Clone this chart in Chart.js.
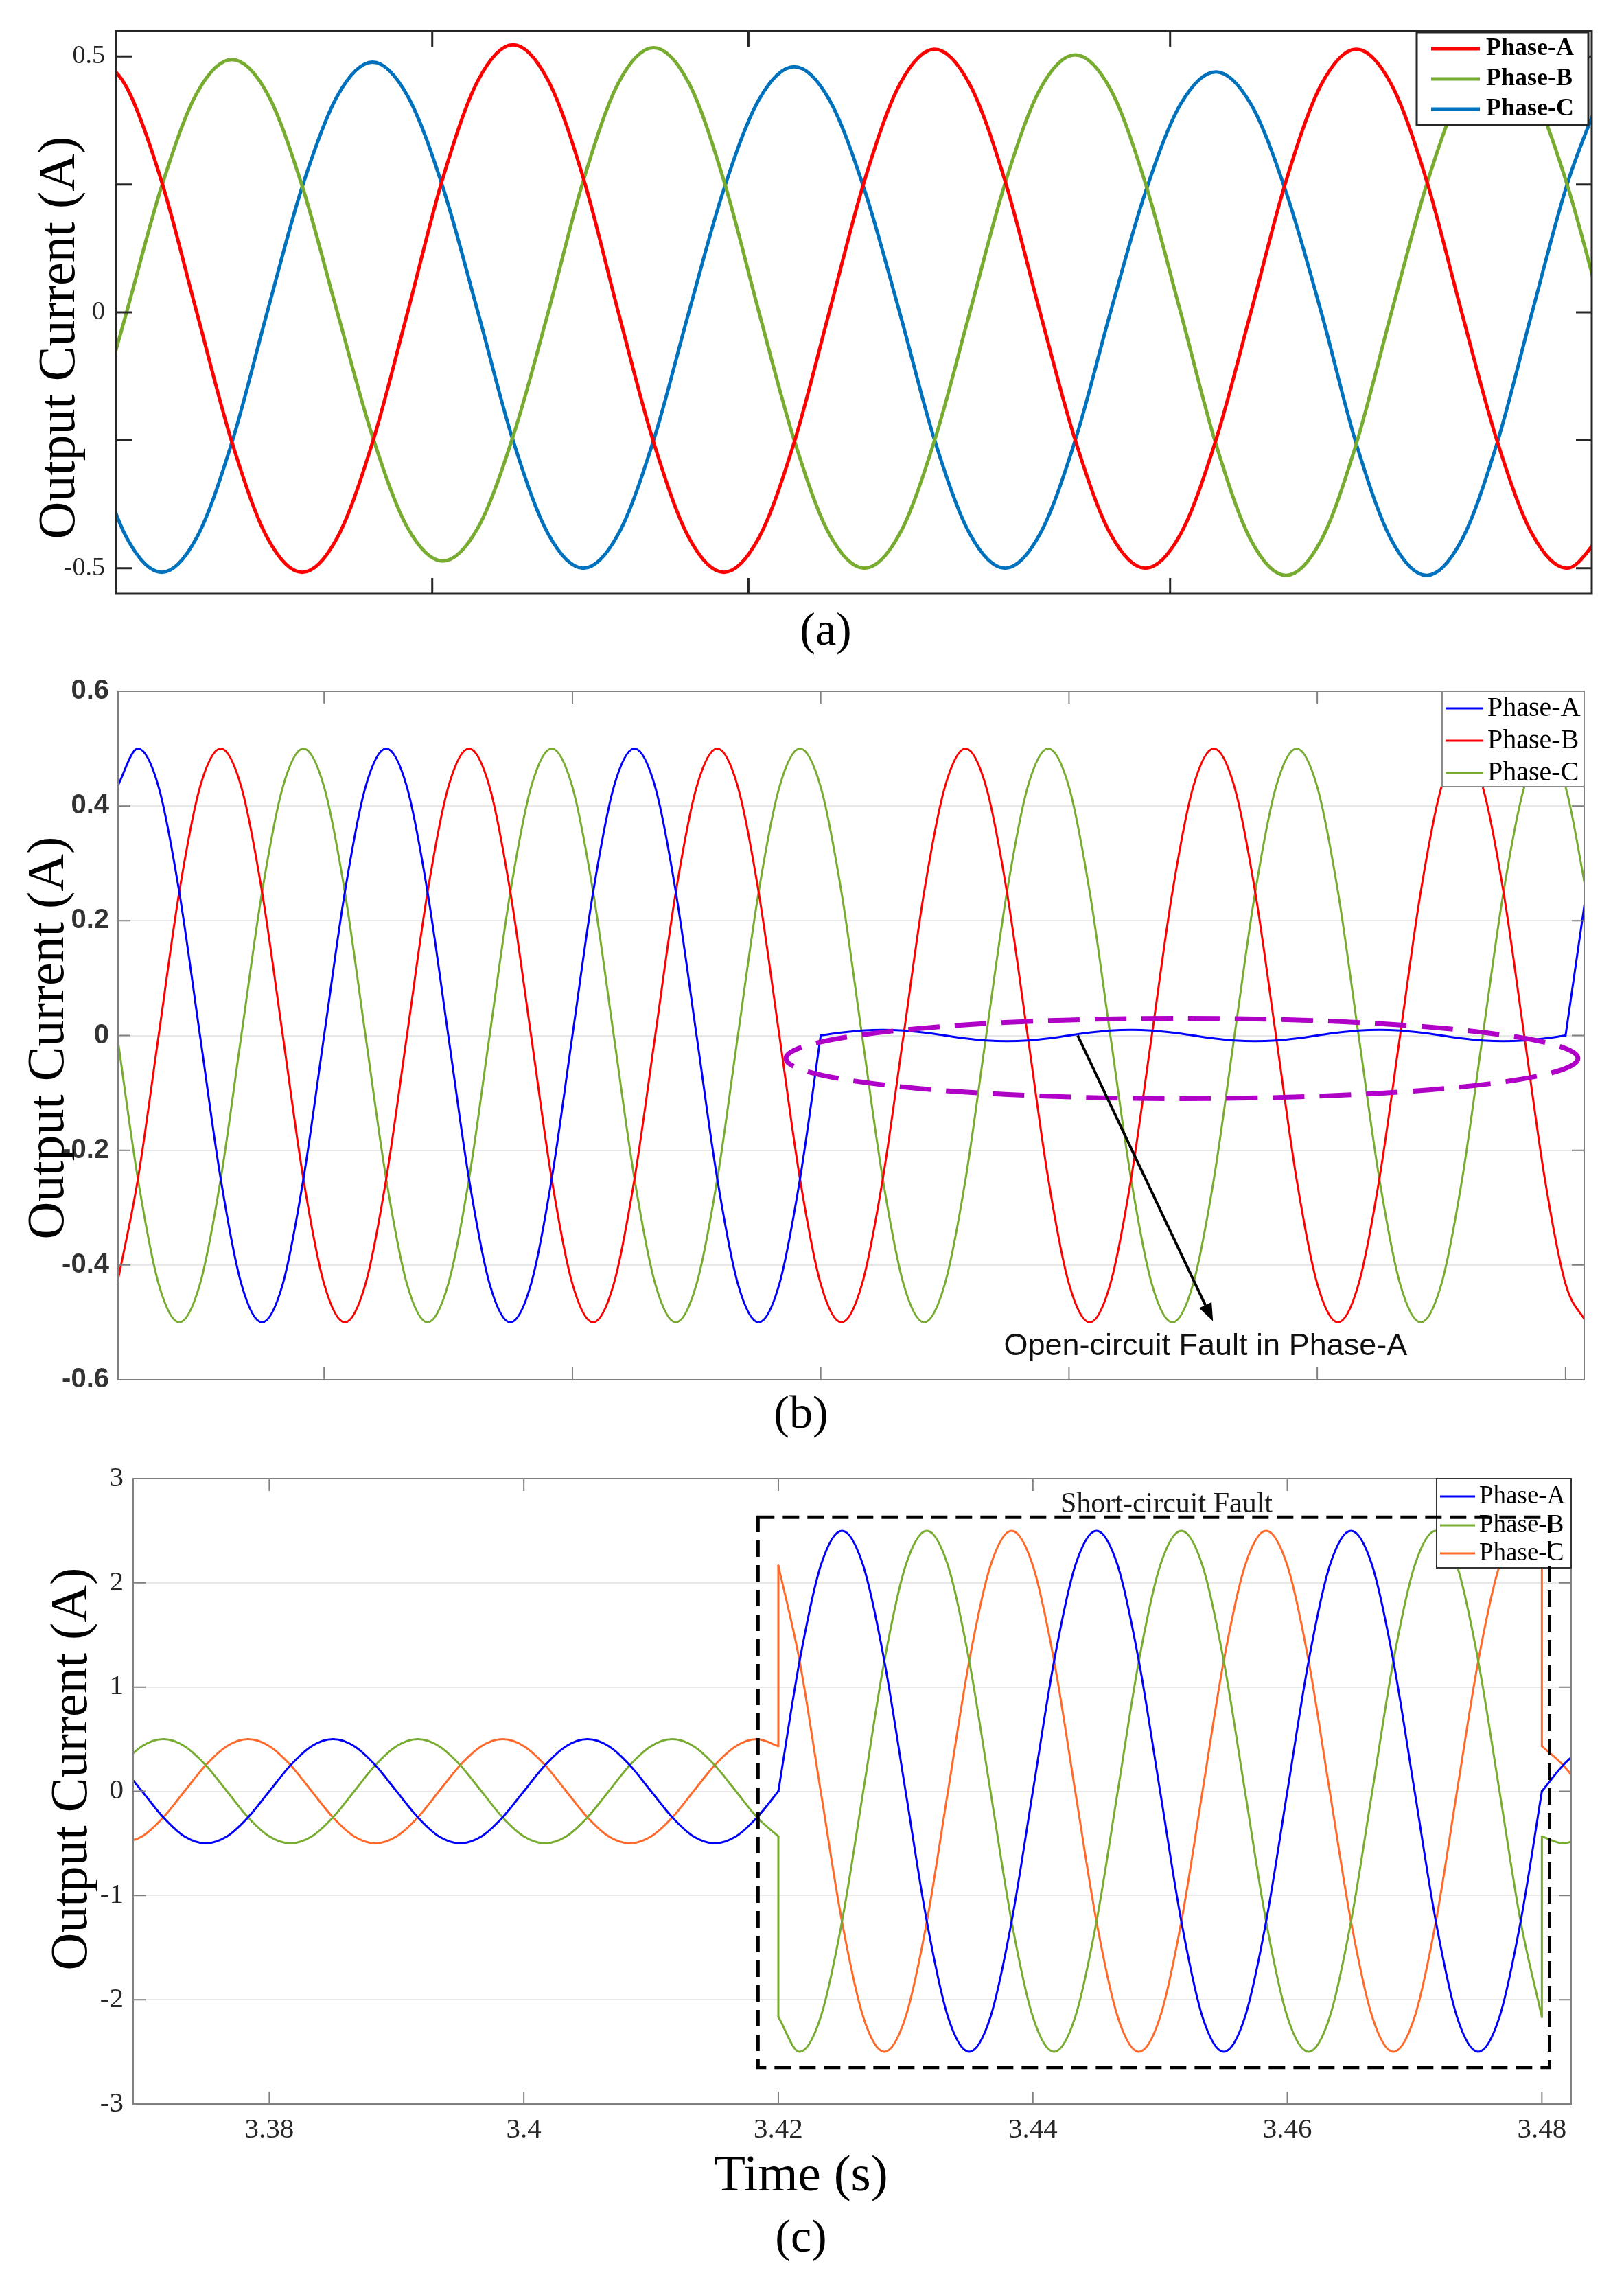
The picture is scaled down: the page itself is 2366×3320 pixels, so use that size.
<!DOCTYPE html>
<html>
<head>
<meta charset="utf-8">
<script src="https://cdn.jsdelivr.net/npm/chart.js@4.4.1/dist/chart.umd.min.js"></script>
<style>
  body { margin: 0; background: #fff; }
  #page { position: relative; width: 2366px; height: 3320px; background: #fff; }
  canvas { position: absolute; left: 0; }
</style>
</head>
<body>
<div id="page">
  <canvas id="chartA" width="2366" height="960" style="top:0px"></canvas>
  <canvas id="chartB" width="2366" height="1150" style="top:960px"></canvas>
  <canvas id="chartC" width="2366" height="1210" style="top:2110px"></canvas>
</div>
<script>
Chart.defaults.font.family = '"Liberation Serif"';

const seriesNames = ['Phase-A', 'Phase-B', 'Phase-C'];
const yTitle = 'Output Current (A)';
const xTitleC = 'Time (s)';
const noteB = 'Open-circuit Fault in Phase-A';
const noteC = 'Short-circuit Fault';

// ---- (a) measured currents, sampled every 1/600 s ----
const timeA = [-0.00117, 0.0005, 0.00217, 0.00383, 0.0055, 0.00717, 0.00883, 0.0105, 0.01217, 0.01383,
  0.0155, 0.01717, 0.01883, 0.0205, 0.02217, 0.02383, 0.0255, 0.02717, 0.02883, 0.0305,
  0.03217, 0.03383, 0.0355, 0.03717, 0.03883, 0.0405, 0.04217, 0.04383, 0.0455, 0.04717,
  0.04883, 0.0505, 0.05217, 0.05383, 0.0555, 0.05717, 0.05883, 0.0605, 0.06217, 0.06383,
  0.0655, 0.06717, 0.06883, 0.0705];
const phaseA_a = [0.51, 0.44, 0.255, 0.0, -0.254, -0.44, -0.508, -0.44, -0.254, 0.0,
  0.262, 0.453, 0.523, 0.453, 0.262, 0.0, -0.254, -0.44, -0.508, -0.44,
  -0.254, 0.0, 0.257, 0.445, 0.514, 0.445, 0.257, 0.0, -0.25, -0.433,
  -0.5, -0.433, -0.25, 0.0, 0.257, 0.445, 0.514, 0.445, 0.257, 0.0,
  -0.25, -0.433, -0.5, -0.433];
const phaseB_a = [-0.245, 0.0, 0.247, 0.428, 0.494, 0.428, 0.247, 0.0, -0.243, -0.421,
  -0.486, -0.421, -0.243, 0.0, 0.258, 0.448, 0.517, 0.448, 0.258, 0.0,
  -0.25, -0.433, -0.5, -0.433, -0.25, 0.0, 0.252, 0.436, 0.503, 0.436,
  0.252, 0.0, -0.257, -0.445, -0.514, -0.445, -0.257, 0.0, 0.25, 0.433,
  0.5, 0.433, 0.25, 0.0];
const phaseC_a = [-0.254, -0.44, -0.508, -0.44, -0.254, 0.0, 0.245, 0.423, 0.489, 0.423,
  0.245, 0.0, -0.25, -0.433, -0.5, -0.433, -0.25, 0.0, 0.24, 0.416,
  0.48, 0.416, 0.24, 0.0, -0.25, -0.433, -0.5, -0.433, -0.25, 0.0,
  0.235, 0.407, 0.47, 0.407, 0.235, 0.0, -0.257, -0.445, -0.514, -0.445,
  -0.257, 0.0, 0.25, 0.433];
const xTicksA = [0.015, 0.03, 0.05];
const yTicksA = [-0.5, -0.25, 0, 0.25, 0.5];
const yLabelsA = ['-0.5', '', '0', '', '0.5'];

// ---- (b) open-circuit fault in phase A between 0.06 s and 0.12 s ----
const timeB = [0.00333, 0.005, 0.00667, 0.00833, 0.01, 0.01167, 0.01333, 0.015, 0.01667, 0.01833, 0.02, 0.02167,
  0.02333, 0.025, 0.02667, 0.02833, 0.03, 0.03167, 0.03333, 0.035, 0.03667, 0.03833, 0.04, 0.04167,
  0.04333, 0.045, 0.04667, 0.04833, 0.05, 0.05167, 0.05333, 0.055, 0.05667, 0.05833, 0.06, 0.06167,
  0.06333, 0.065, 0.06667, 0.06833, 0.07, 0.07167, 0.07333, 0.075, 0.07667, 0.07833, 0.08, 0.08167,
  0.08333, 0.085, 0.08667, 0.08833, 0.09, 0.09167, 0.09333, 0.095, 0.09667, 0.09833, 0.1, 0.10167,
  0.10333, 0.105, 0.10667, 0.10833, 0.11, 0.11167, 0.11333, 0.115, 0.11667, 0.11833, 0.12, 0.12167];
const phaseA_b = [0.433, 0.5, 0.433, 0.25, 0, -0.25, -0.433, -0.5, -0.433, -0.25, 0, 0.25,
  0.433, 0.5, 0.433, 0.25, 0, -0.25, -0.433, -0.5, -0.433, -0.25, 0, 0.25,
  0.433, 0.5, 0.433, 0.25, 0, -0.25, -0.433, -0.5, -0.433, -0.25, 0, 0.005,
  0.0087, 0.01, 0.0087, 0.005, 0, -0.005, -0.0087, -0.01, -0.0087, -0.005, 0, 0.005,
  0.0087, 0.01, 0.0087, 0.005, 0, -0.005, -0.0087, -0.01, -0.0087, -0.005, 0, 0.005,
  0.0087, 0.01, 0.0087, 0.005, 0, -0.005, -0.0087, -0.01, -0.0087, -0.005, 0, 0.25];
const phaseB_b = [-0.433, -0.25, 0, 0.25, 0.433, 0.5, 0.433, 0.25, 0, -0.25, -0.433, -0.5,
  -0.433, -0.25, 0, 0.25, 0.433, 0.5, 0.433, 0.25, 0, -0.25, -0.433, -0.5,
  -0.433, -0.25, 0, 0.25, 0.433, 0.5, 0.433, 0.25, 0, -0.25, -0.433, -0.5,
  -0.433, -0.25, 0, 0.25, 0.433, 0.5, 0.433, 0.25, 0, -0.25, -0.433, -0.5,
  -0.433, -0.25, 0, 0.25, 0.433, 0.5, 0.433, 0.25, 0, -0.25, -0.433, -0.5,
  -0.433, -0.25, 0, 0.25, 0.433, 0.5, 0.433, 0.25, 0, -0.25, -0.433, -0.5];
const phaseC_b = [0, -0.25, -0.433, -0.5, -0.433, -0.25, 0, 0.25, 0.433, 0.5, 0.433, 0.25,
  0, -0.25, -0.433, -0.5, -0.433, -0.25, 0, 0.25, 0.433, 0.5, 0.433, 0.25,
  0, -0.25, -0.433, -0.5, -0.433, -0.25, 0, 0.25, 0.433, 0.5, 0.433, 0.25,
  0, -0.25, -0.433, -0.5, -0.433, -0.25, 0, 0.25, 0.433, 0.5, 0.433, 0.25,
  0, -0.25, -0.433, -0.5, -0.433, -0.25, 0, 0.25, 0.433, 0.5, 0.433, 0.25,
  0, -0.25, -0.433, -0.5, -0.433, -0.25, 0, 0.25, 0.433, 0.5, 0.433, 0.25];
const faultBreaksB = [0.06, 0.12];
const xTicksB = [0.02, 0.04, 0.06, 0.08, 0.1, 0.12];
const yTicksB = [-0.6, -0.4, -0.2, 0, 0.2, 0.4, 0.6];
const yLabelsB = ['-0.6', '-0.4', '-0.2', '0', '0.2', '0.4', '0.6'];

// ---- (c) short-circuit fault between 3.42 s and 3.48 s (repeated time = jump) ----
const timeC = [3.36833, 3.37, 3.37167, 3.37333, 3.375, 3.37667, 3.37833, 3.38, 3.38167, 3.38333,
  3.385, 3.38667, 3.38833, 3.39, 3.39167, 3.39333, 3.395, 3.39667, 3.39833, 3.4, 3.40167, 3.40333,
  3.405, 3.40667, 3.40833, 3.41, 3.41167, 3.41333, 3.415, 3.41667, 3.41833, 3.42,
  3.42, 3.42167, 3.42333, 3.425, 3.42667, 3.42833, 3.43, 3.43167, 3.43333, 3.435, 3.43667, 3.43833, 3.44,
  3.44167, 3.44333, 3.445, 3.44667, 3.44833, 3.45, 3.45167, 3.45333, 3.455, 3.45667, 3.45833, 3.46,
  3.46167, 3.46333, 3.465, 3.46667, 3.46833, 3.47, 3.47167, 3.47333, 3.475, 3.47667, 3.47833, 3.48,
  3.48, 3.48167, 3.48333];
const phaseA_c = [0.25, 0, -0.25, -0.433, -0.5, -0.433, -0.25, 0, 0.25, 0.433,
  0.5, 0.433, 0.25, 0, -0.25, -0.433, -0.5, -0.433, -0.25, 0, 0.25, 0.433,
  0.5, 0.433, 0.25, 0, -0.25, -0.433, -0.5, -0.433, -0.25, 0,
  0, 1.25, 2.165, 2.5, 2.165, 1.25, 0, -1.25, -2.165, -2.5, -2.165, -1.25, 0,
  1.25, 2.165, 2.5, 2.165, 1.25, 0, -1.25, -2.165, -2.5, -2.165, -1.25, 0,
  1.25, 2.165, 2.5, 2.165, 1.25, 0, -1.25, -2.165, -2.5, -2.165, -1.25, 0,
  0, 0.25, 0.433];
const phaseB_c = [0.25, 0.433, 0.5, 0.433, 0.25, 0, -0.25, -0.433, -0.5, -0.433,
  -0.25, 0, 0.25, 0.433, 0.5, 0.433, 0.25, 0, -0.25, -0.433, -0.5, -0.433,
  -0.25, 0, 0.25, 0.433, 0.5, 0.433, 0.25, 0, -0.25, -0.433,
  -2.165, -2.5, -2.165, -1.25, 0, 1.25, 2.165, 2.5, 2.165, 1.25, 0, -1.25, -2.165,
  -2.5, -2.165, -1.25, 0, 1.25, 2.165, 2.5, 2.165, 1.25, 0, -1.25, -2.165,
  -2.5, -2.165, -1.25, 0, 1.25, 2.165, 2.5, 2.165, 1.25, 0, -1.25, -2.165,
  -0.433, -0.5, -0.433];
const phaseC_c = [-0.5, -0.433, -0.25, 0, 0.25, 0.433, 0.5, 0.433, 0.25, 0,
  -0.25, -0.433, -0.5, -0.433, -0.25, 0, 0.25, 0.433, 0.5, 0.433, 0.25, 0,
  -0.25, -0.433, -0.5, -0.433, -0.25, 0, 0.25, 0.433, 0.5, 0.433,
  2.165, 1.25, 0, -1.25, -2.165, -2.5, -2.165, -1.25, 0, 1.25, 2.165, 2.5, 2.165,
  1.25, 0, -1.25, -2.165, -2.5, -2.165, -1.25, 0, 1.25, 2.165, 2.5, 2.165,
  1.25, 0, -1.25, -2.165, -2.5, -2.165, -1.25, 0, 1.25, 2.165, 2.5, 2.165,
  0.433, 0.25, 0];
const xTicksC = [3.38, 3.4, 3.42, 3.44, 3.46, 3.48];
const xLabelsC = ['3.38', '3.4', '3.42', '3.44', '3.46', '3.48'];
const yTicksC = [-3, -2, -1, 0, 1, 2, 3];
const yLabelsC = ['-3', '-2', '-1', '0', '1', '2', '3'];

// split a trace into smooth pieces: repeated time -> vertical jump, break time -> kink
function tracePieces(times, values, breaks) {
  const pieces = [];
  const jumps = [];
  let cur = [];
  for (let i = 0; i < times.length; i++) {
    const p = {x: times[i], y: values[i]};
    if (i > 0 && times[i] === times[i - 1]) {
      jumps.push([cur[cur.length - 1], p]);
      pieces.push(cur);
      cur = [p];
      continue;
    }
    cur.push(p);
    if (breaks && breaks.includes(times[i]) && i > 0 && i < times.length - 1) {
      pieces.push(cur);
      cur = [p];
    }
  }
  pieces.push(cur);
  return {pieces, jumps};
}

function traceDatasets(times, seriesList, colors, width, breaksList) {
  const sets = [];
  seriesList.forEach((values, s) => {
    const {pieces, jumps} = tracePieces(times, values, breaksList ? breaksList[s] : null);
    pieces.forEach(piece => sets.push({
      data: piece, borderColor: colors[s], borderWidth: width,
      cubicInterpolationMode: 'monotone', tension: 0.4, pointRadius: 0, borderCapStyle: 'round'
    }));
    jumps.forEach(j => sets.push({
      data: j, borderColor: colors[s], borderWidth: width, tension: 0, pointRadius: 0, borderCapStyle: 'round'
    }));
  });
  return sets;
}

function drawFrame(chart, fr) {
  const {ctx, chartArea: a, scales: {x, y}} = chart;
  ctx.save();
  ctx.strokeStyle = fr.color;
  ctx.lineWidth = fr.width;
  ctx.setLineDash([]);
  ctx.beginPath();
  x.ticks.forEach(t => {
    const px = x.getPixelForValue(t.value);
    ctx.moveTo(px, a.bottom); ctx.lineTo(px, a.bottom - fr.tick);
    ctx.moveTo(px, a.top); ctx.lineTo(px, a.top + fr.tick);
  });
  y.ticks.forEach(t => {
    const py = y.getPixelForValue(t.value);
    ctx.moveTo(a.left, py); ctx.lineTo(a.left + fr.tick, py);
    ctx.moveTo(a.right, py); ctx.lineTo(a.right - fr.tick, py);
  });
  ctx.stroke();
  ctx.strokeRect(a.left, a.top, a.right - a.left, a.bottom - a.top);
  ctx.restore();
}

function drawLegend(chart, lg) {
  const ctx = chart.ctx;
  ctx.save();
  ctx.setLineDash([]);
  ctx.fillStyle = '#fff';
  ctx.fillRect(lg.x, lg.y, lg.w, lg.h);
  ctx.strokeStyle = lg.border;
  ctx.lineWidth = lg.borderWidth;
  ctx.strokeRect(lg.x, lg.y, lg.w, lg.h);
  ctx.font = lg.font;
  ctx.textAlign = 'left';
  ctx.textBaseline = 'middle';
  seriesNames.forEach((name, i) => {
    const y = lg.rows[i];
    ctx.strokeStyle = lg.colors[i];
    ctx.lineWidth = lg.lineWidth;
    ctx.beginPath();
    ctx.moveTo(lg.lineFrom, y);
    ctx.lineTo(lg.lineTo, y);
    ctx.stroke();
    ctx.fillStyle = '#000';
    ctx.fillText(name, lg.textX, y);
  });
  ctx.restore();
}

function drawNotes(chart, notes) {
  const {ctx, scales: {x, y}} = chart;
  (notes || []).forEach(n => {
    ctx.save();
    ctx.strokeStyle = n.color;
    ctx.fillStyle = n.color;
    ctx.lineWidth = n.width || 1;
    ctx.setLineDash(n.dash || []);
    if (n.type === 'ellipse') {
      const cx = x.getPixelForValue(n.cx), cy = y.getPixelForValue(n.cy);
      const rx = Math.abs(x.getPixelForValue(n.cx + n.rx) - cx);
      const ry = Math.abs(y.getPixelForValue(n.cy + n.ry) - cy);
      ctx.beginPath();
      ctx.ellipse(cx, cy, rx, ry, 0, 0, Math.PI * 2);
      ctx.stroke();
    } else if (n.type === 'rect') {
      const x0 = x.getPixelForValue(n.x0), y0 = y.getPixelForValue(n.y0);
      const x1 = x.getPixelForValue(n.x1), y1 = y.getPixelForValue(n.y1);
      ctx.strokeRect(x0, y0, x1 - x0, y1 - y0);
    } else if (n.type === 'arrow') {
      const x0 = x.getPixelForValue(n.x0), y0 = y.getPixelForValue(n.y0);
      const x1 = x.getPixelForValue(n.x1), y1 = y.getPixelForValue(n.y1);
      const ang = Math.atan2(y1 - y0, x1 - x0);
      const bx = x1 - n.head * Math.cos(ang), by = y1 - n.head * Math.sin(ang);
      ctx.beginPath();
      ctx.moveTo(x0, y0);
      ctx.lineTo(bx, by);
      ctx.stroke();
      ctx.beginPath();
      ctx.moveTo(x1, y1);
      ctx.lineTo(bx + n.headW * Math.sin(ang), by - n.headW * Math.cos(ang));
      ctx.lineTo(bx - n.headW * Math.sin(ang), by + n.headW * Math.cos(ang));
      ctx.closePath();
      ctx.fill();
    } else if (n.type === 'text') {
      ctx.font = n.font;
      ctx.textAlign = n.align;
      ctx.textBaseline = n.baseline;
      ctx.fillText(n.text, x.getPixelForValue(n.x), y.getPixelForValue(n.y));
    }
    ctx.restore();
  });
}

function drawTitles(chart, titles) {
  const ctx = chart.ctx;
  titles.forEach(t => {
    ctx.save();
    ctx.font = t.font;
    ctx.fillStyle = '#000';
    ctx.textAlign = 'center';
    ctx.textBaseline = 'middle';
    ctx.translate(t.x, t.y);
    if (t.rotate) ctx.rotate(-Math.PI / 2);
    ctx.fillText(t.text, 0, 0);
    ctx.restore();
  });
}

const panelDecor = {
  id: 'panelDecor',
  afterDatasetsDraw(chart, args, opts) {
    if (!opts.notesOnTop) drawNotes(chart, opts.notes);
    drawFrame(chart, opts.frame);
    drawLegend(chart, opts.legend);
    if (opts.notesOnTop) drawNotes(chart, opts.notes);
    drawTitles(chart, opts.titles);
  }
};

function makeChart(id, p) {
  return new Chart(document.getElementById(id), {
    type: 'line',
    data: {datasets: p.datasets},
    options: {
      responsive: false,
      animation: false,
      devicePixelRatio: 1,
      layout: {padding: p.padding},
      plugins: {legend: {display: false}, tooltip: {enabled: false}, panelDecor: p.decor},
      scales: {
        x: {
          type: 'linear', min: p.xMin, max: p.xMax,
          afterBuildTicks: s => { s.ticks = p.xTicks.map(v => ({value: v})); },
          afterFit: s => { s.height = p.xHeight; },
          ticks: {
            display: !!p.xLabels, callback: (v, i) => (p.xLabels ? p.xLabels[i] : ''),
            font: p.tickFont, color: p.tickColor, padding: p.xPad, maxRotation: 0, autoSkip: false
          },
          grid: {display: false, drawTicks: false},
          border: {display: false}
        },
        y: {
          type: 'linear', min: p.yMin, max: p.yMax,
          afterBuildTicks: s => { s.ticks = p.yTicks.map(v => ({value: v})); },
          afterFit: s => { s.width = p.yWidth; },
          ticks: {callback: (v, i) => p.yLabels[i], font: p.tickFont, color: p.tickColor, padding: p.yPad, autoSkip: false},
          grid: {display: !!p.grid, color: p.grid, lineWidth: 2, drawTicks: false},
          border: {display: false}
        }
      }
    },
    plugins: [panelDecor]
  });
}

const colorsA = ['#FF0000', '#77AC30', '#0072BD'];
makeChart('chartA', {
  datasets: traceDatasets(timeA, [phaseA_a, phaseB_a, phaseC_a], colorsA, 5),
  padding: {left: 0, right: 47, top: 45, bottom: 0},
  xMin: 0, xMax: 0.07, xTicks: xTicksA, xHeight: 95,
  yMin: -0.55, yMax: 0.55, yTicks: yTicksA, yLabels: yLabelsA, yWidth: 169, yPad: 16,
  tickFont: {family: '"Liberation Serif"', size: 38}, tickColor: '#262626',
  decor: {
    frame: {color: '#262626', width: 3, tick: 23},
    legend: {x: 2064, y: 47, w: 250, h: 135, rows: [71, 115, 159], lineFrom: 2085, lineTo: 2156, textX: 2165,
      font: 'bold 36px "Liberation Serif"', lineWidth: 5, colors: colorsA, border: '#262626', borderWidth: 3},
    titles: [
      {text: yTitle, x: 88, y: 492, font: '76px "Liberation Serif"', rotate: true},
      {text: '(a)', x: 1203, y: 921, font: '68px "Liberation Serif"'}
    ]
  }
});

const colorsB = ['#0000FF', '#FF0000', '#77AC30'];
makeChart('chartB', {
  datasets: traceDatasets(timeB, [phaseA_b, phaseB_b, phaseC_b], colorsB, 3, [faultBreaksB, null, null]),
  padding: {left: 0, right: 58, top: 47, bottom: 0},
  xMin: 0.0034, xMax: 0.1215, xTicks: xTicksB, xHeight: 100,
  yMin: -0.6, yMax: 0.6, yTicks: yTicksB, yLabels: yLabelsB, yWidth: 172, yPad: 13,
  tickFont: {family: '"Liberation Sans"', size: 40, weight: 'bold'}, tickColor: '#333333',
  grid: '#E8E8E8',
  decor: {
    frame: {color: '#808080', width: 2, tick: 18},
    legend: {x: 2101, y: 47, w: 207, h: 139, rows: [72, 119, 166], lineFrom: 2106, lineTo: 2161, textX: 2167,
      font: '40px "Liberation Serif"', lineWidth: 3, colors: colorsB, border: '#8C8C8C', borderWidth: 2},
    notes: [
      {type: 'ellipse', cx: 0.0891, cy: -0.04, rx: 0.0319, ry: 0.07, color: '#B000C8', width: 7, dash: [46, 22]},
      {type: 'arrow', x0: 0.0807, y0: 0.0, x1: 0.0916, y1: -0.498, color: '#000', width: 4, head: 26, headW: 10},
      {type: 'text', x: 0.091, y: -0.5425, text: noteB, font: '45px "Liberation Sans"', color: '#111111', align: 'center', baseline: 'middle'}
    ],
    titles: [
      {text: yTitle, x: 72, y: 552, font: '76px "Liberation Serif"', rotate: true},
      {text: '(b)', x: 1167, y: 1102, font: '68px "Liberation Serif"'}
    ]
  }
});

const colorsC = ['#0000FF', '#77AC30', '#FF6A2B'];
makeChart('chartC', {
  datasets: traceDatasets(timeC, [phaseA_c, phaseB_c, phaseC_c], colorsC, 3),
  padding: {left: 0, right: 77, top: 44, bottom: 0},
  xMin: 3.3693, xMax: 3.4823, xTicks: xTicksC, xLabels: xLabelsC, xHeight: 255, xPad: 14,
  yMin: -3, yMax: 3, yTicks: yTicksC, yLabels: yLabelsC, yWidth: 194, yPad: 14,
  tickFont: {family: '"Liberation Serif"', size: 41}, tickColor: '#262626',
  grid: '#E8E8E8',
  decor: {
    frame: {color: '#808080', width: 2, tick: 18},
    legend: {x: 2093, y: 44, w: 196, h: 130, rows: [70, 112, 153], lineFrom: 2098, lineTo: 2149, textX: 2155,
      font: '37px "Liberation Serif"', lineWidth: 3, colors: colorsC, border: '#333333', borderWidth: 2},
    notesOnTop: true,
    notes: [
      {type: 'rect', x0: 3.4184, y0: 2.63, x1: 3.4806, y1: -2.65, color: '#000', width: 5, dash: [24, 12]},
      {type: 'text', x: 3.4505, y: 2.68, text: noteC, font: '42px "Liberation Serif"', color: '#1a1a1a', align: 'center', baseline: 'alphabetic'}
    ],
    titles: [
      {text: yTitle, x: 106, y: 467, font: '76px "Liberation Serif"', rotate: true},
      {text: xTitleC, x: 1167, y: 1061, font: '75px "Liberation Serif"'},
      {text: '(c)', x: 1167, y: 1152, font: '68px "Liberation Serif"'}
    ]
  }
});
</script>
</body>
</html>
